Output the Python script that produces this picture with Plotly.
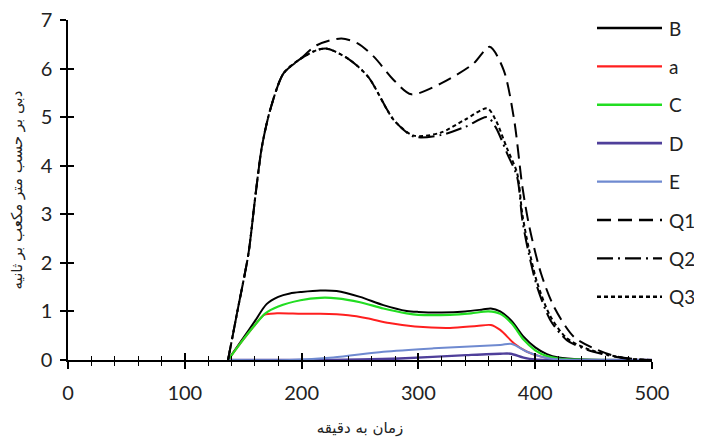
import plotly.graph_objects as go

# ---------------- data ----------------
x_B = [137, 150, 160, 170, 180, 190, 200, 216, 230, 250, 270, 290, 300, 320, 340, 355, 362, 370, 380, 390, 400, 410, 420, 440, 500]
B = [0, 0.45, 0.8, 1.15, 1.3, 1.37, 1.40, 1.43, 1.42, 1.3, 1.13, 1.01, 0.99, 0.98, 1.0, 1.04, 1.06, 1.0, 0.8, 0.48, 0.26, 0.12, 0.05, 0.01, 0]

x_a = [137, 150, 160, 168, 179, 200, 216, 240, 256, 275, 297, 327, 350, 362, 370, 382, 393, 405, 420, 500]
a = [0, 0.42, 0.72, 0.93, 0.96, 0.95, 0.95, 0.92, 0.86, 0.76, 0.69, 0.66, 0.70, 0.72, 0.62, 0.34, 0.17, 0.07, 0.01, 0]

x_C = [137, 150, 160, 169, 180, 199, 216, 230, 250, 270, 290, 300, 327, 345, 360, 370, 380, 390, 400, 410, 420, 440, 500]
C = [0, 0.42, 0.72, 0.96, 1.1, 1.23, 1.28, 1.27, 1.19, 1.06, 0.96, 0.93, 0.93, 0.96, 1.0, 0.95, 0.75, 0.42, 0.2, 0.08, 0.03, 0.01, 0]

x_D = [137, 200, 250, 284, 341, 370, 379, 390, 400, 420, 500]
D = [0, 0, 0.01, 0.03, 0.10, 0.13, 0.13, 0.05, 0.01, 0, 0]

x_E = [137, 190, 227, 270, 313, 370, 380, 393, 405, 420, 500]
E = [0, 0, 0.05, 0.17, 0.24, 0.31, 0.33, 0.17, 0.07, 0.01, 0]

x_Q1 = [137, 145, 154.5, 160, 166, 173, 184.5, 199, 213, 234, 248, 262, 279, 294, 319, 347, 361, 373, 382, 389, 395, 405, 416, 433, 453, 470, 490, 500]
Q1 = [0, 1.0, 2.19, 3.29, 4.39, 5.14, 5.9, 6.2, 6.48, 6.62, 6.52, 6.24, 5.76, 5.47, 5.69, 6.1, 6.45, 5.97, 4.94, 3.57, 2.74, 1.78, 1.10, 0.48, 0.21, 0.07, 0.01, 0]

x_Q2 = [137, 145, 154.5, 160, 166, 173, 184.5, 199, 213, 222, 240, 257, 279, 296, 319, 340, 359, 366, 376, 384.5, 389, 394.5, 401.6, 413, 427, 444.5, 461.6, 480, 500]
Q2 = [0, 1.0, 2.19, 3.29, 4.39, 5.14, 5.9, 6.2, 6.38, 6.41, 6.2, 5.83, 4.94, 4.6, 4.63, 4.8, 5.0, 4.8, 4.25, 3.77, 2.88, 2.19, 1.51, 0.82, 0.41, 0.21, 0.1, 0.02, 0]

x_Q3 = x_Q2
Q3 = [0, 1.0, 2.19, 3.29, 4.39, 5.14, 5.9, 6.2, 6.38, 6.41, 6.2, 5.83, 4.94, 4.62, 4.68, 4.95, 5.18, 4.95, 4.35, 3.85, 3.0, 2.3, 1.6, 0.9, 0.45, 0.23, 0.11, 0.03, 0]

x_ticks = [0, 100, 200, 300, 400, 500]
y_ticks = [0, 1, 2, 3, 4, 5, 6, 7]

x_title = "زمان به دقیقه"
y_title = "دبی بر حسب متر مکعب بر ثانیه"

# ---------------- styles ----------------
series = [
    ("B", x_B, B, "#000000", "solid", 2),
    ("a", x_a, a, "#ff1f1f", "solid", 2),
    ("C", x_C, C, "#22dd22", "solid", 2.2),
    ("D", x_D, D, "#4f3f9a", "solid", 2.4),
    ("E", x_E, E, "#6f8ad0", "solid", 2),
    ("Q1", x_Q1, Q1, "#000000", "14px,7px", 2),
    ("Q2", x_Q2, Q2, "#000000", "16px,5px,2px,5px", 2),
    ("Q3", x_Q3, Q3, "#000000", "4px,3px", 2),
]

FONT = "Lato, 'DejaVu Sans', sans-serif"
OFF = 8  # browser body margin
W, H = 694, 430
# target plot box in page pixels: x 68..652, y 20..360
ML = 68 - OFF
MT = 20 - OFF
MR = W - (652 - OFF)
MB = H - (360 - OFF)
PW, PH = W - ML - MR, H - MT - MB

def px_x(p):
    return (p - OFF - ML) / PW

def px_y(p):
    return (H - MB - (p - OFF)) / PH

fig = go.Figure()
for name, xs, ys, col, dash, w in series:
    fig.add_trace(go.Scatter(
        x=xs, y=ys, name=name, mode="lines",
        line=dict(color=col, width=w, dash=dash, shape="spline", smoothing=0.8),
        showlegend=False, cliponaxis=False,
    ))

# invisible trace to anchor overlay axes (for crossing ticks)
fig.add_trace(go.Scatter(x=[0], y=[0], xaxis="x2", yaxis="y2", mode="markers",
                         marker=dict(opacity=0), showlegend=False, hoverinfo="skip"))

# custom legend (drawn in paper space so it does not push margins)
shapes = []
annotations = []
for i, (name, xs, ys, col, dash, w) in enumerate(series):
    yy = px_y(28 + 38.4 * i)
    shapes.append(dict(type="line", xref="paper", yref="paper",
                       x0=px_x(597), x1=px_x(662), y0=yy, y1=yy,
                       line=dict(color=col, width=w + 0.4, dash=dash)))
    annotations.append(dict(text=name, xref="paper", yref="paper", x=px_x(667), y=yy,
                            xanchor="left", yanchor="middle", showarrow=False,
                            font=dict(size=19, family=FONT, color="#222")))

fig.update_layout(
    width=W, height=H,
    margin=dict(l=ML, r=MR, t=MT, b=MB, autoexpand=False),
    paper_bgcolor="white", plot_bgcolor="white",
    font=dict(family=FONT, size=20, color="#222"),
    showlegend=False,
    shapes=shapes,
    annotations=annotations,
    xaxis=dict(range=[0, 500], tickvals=x_ticks, showline=True, linecolor="black", linewidth=1.5,
               ticks="outside", ticklen=7, tickwidth=1.5, tickcolor="black",
               minor=dict(dtick=20, ticks="outside", ticklen=4, tickcolor="black", tickwidth=1.2),
               showgrid=False, zeroline=False, ticklabelstandoff=7, automargin=False,
               ticklabeloverflow="allow",
               title=dict(text=x_title, font=dict(size=15, family="'DejaVu Sans', sans-serif"), standoff=20)),
    yaxis=dict(range=[0, 7], tickvals=y_ticks, ticktext=[str(v) for v in y_ticks],
               showline=True, linecolor="black", linewidth=1.5,
               ticks="outside", ticklen=6, tickwidth=1.5, tickcolor="black",
               showgrid=False, zeroline=False, ticklabelstandoff=4, automargin=False,
               ticklabeloverflow="allow",
               title=dict(text=y_title, font=dict(size=15, family="'DejaVu Sans', sans-serif"), standoff=18)),
    xaxis2=dict(overlaying="x", matches="x", anchor="y", showticklabels=False, showline=False,
                showgrid=False, zeroline=False, tickvals=x_ticks, ticks="inside", ticklen=7,
                tickwidth=1.5, tickcolor="black",
                minor=dict(dtick=20, ticks="inside", ticklen=4, tickcolor="black", tickwidth=1.2)),
    yaxis2=dict(overlaying="y", matches="y", anchor="x", showticklabels=False, showline=False,
                showgrid=False, zeroline=False, tickvals=y_ticks, ticks="inside", ticklen=6,
                tickwidth=1.5, tickcolor="black"),
)

fig.write_html("out.html")
